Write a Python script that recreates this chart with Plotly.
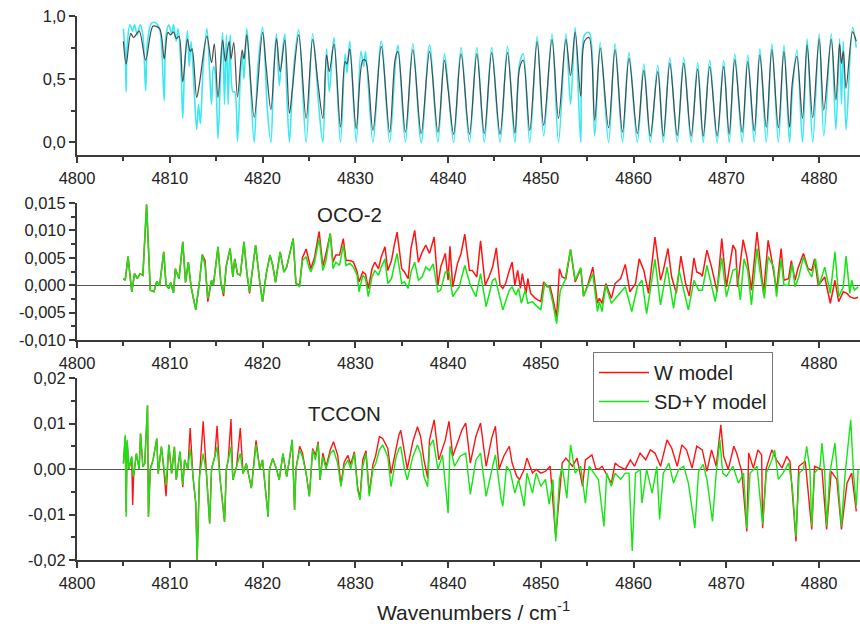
import plotly.graph_objects as go

# ---------------- data ----------------
# top panel: smoothed (dark) and high-resolution (cyan) transmittance
top_dark_x = [4805.0, 4805.3, 4805.8, 4806.1, 4806.7, 4807.4, 4808.2, 4808.9, 4809.4, 4809.8,
              4810.1, 4810.4, 4810.7, 4811.0, 4811.4, 4811.9, 4812.2, 4812.4, 4812.9, 4813.2,
              4814.0, 4814.5, 4814.8, 4815.2, 4815.7, 4816.0, 4816.4, 4816.6, 4816.9, 4817.3,
              4817.8, 4818.0, 4818.3, 4819.1, 4820.0, 4820.4, 4820.9, 4821.5, 4821.9, 4822.4,
              4822.9, 4823.2, 4823.9, 4824.7, 4825.4, 4826.0, 4826.5, 4826.9, 4827.2, 4827.7,
              4828.4, 4828.9, 4829.1, 4829.4, 4830.1, 4830.8, 4831.1, 4831.9, 4832.8, 4833.7,
              4834.3, 4834.6, 4835.4, 4836.2, 4837.1, 4838.0, 4838.9, 4839.6, 4840.0, 4840.6,
              4841.4, 4842.3, 4843.1, 4843.9, 4844.7, 4845.6, 4846.4, 4847.2, 4847.7, 4848.1,
              4848.8, 4849.6, 4850.3, 4851.2, 4851.9, 4852.7, 4853.2, 4853.7, 4854.3, 4854.7,
              4855.2, 4855.8, 4856.4, 4857.3, 4858.0, 4858.8, 4859.5, 4860.4, 4861.1, 4861.8,
              4862.6, 4863.2, 4863.9, 4864.7, 4865.4, 4866.2, 4866.9, 4867.5, 4868.2, 4869.0,
              4869.7, 4870.3, 4870.9, 4871.7, 4872.3, 4873.0, 4873.6, 4874.3, 4874.9, 4875.6,
              4876.2, 4876.8, 4877.1, 4877.6, 4878.2, 4878.7, 4879.3, 4880.0, 4880.5, 4881.3,
              4881.8, 4882.2, 4882.4, 4882.6, 4882.9, 4883.6, 4884.0]
top_dark_y = [0.80, 0.62, 0.86, 0.83, 0.88, 0.65, 0.92, 0.90, 0.66, 0.87,
              0.85, 0.875, 0.82, 0.84, 0.48, 0.815, 0.72, 0.74, 0.355, 0.465,
              0.84, 0.63, 0.78, 0.355, 0.81, 0.64, 0.80, 0.66, 0.79, 0.36,
              0.73, 0.66, 0.85, 0.20, 0.87, 0.59, 0.26, 0.82, 0.56, 0.81,
              0.23, 0.41, 0.85, 0.19, 0.815, 0.45, 0.19, 0.69, 0.56, 0.78,
              0.12, 0.64, 0.62, 0.74, 0.11, 0.65, 0.65, 0.095, 0.76, 0.08,
              0.66, 0.72, 0.08, 0.735, 0.07, 0.72, 0.08, 0.65, 0.42, 0.065,
              0.70, 0.065, 0.70, 0.07, 0.71, 0.065, 0.71, 0.075, 0.585, 0.65,
              0.095, 0.80, 0.135, 0.815, 0.19, 0.815, 0.53, 0.87, 0.365, 0.80,
              0.83, 0.175, 0.745, 0.115, 0.735, 0.08, 0.665, 0.07, 0.57, 0.05,
              0.56, 0.05, 0.625, 0.055, 0.625, 0.05, 0.58, 0.05, 0.60, 0.05,
              0.60, 0.065, 0.655, 0.08, 0.64, 0.09, 0.69, 0.12, 0.735, 0.115,
              0.72, 0.12, 0.47, 0.68, 0.19, 0.77, 0.195, 0.82, 0.255, 0.815,
              0.335, 0.78, 0.625, 0.72, 0.43, 0.875, 0.80]

top_cyan_x = [4805.0, 4805.2, 4805.3, 4805.4, 4805.7, 4806.0, 4806.2, 4806.5, 4806.8, 4807.1,
              4807.4, 4807.6, 4808.0, 4808.3, 4808.7, 4809.0, 4809.4, 4809.6, 4809.9, 4810.2,
              4810.4, 4810.7, 4810.9, 4811.2, 4811.4, 4811.6, 4811.9, 4812.1, 4812.3, 4812.6,
              4812.9, 4813.1, 4813.3, 4813.6, 4814.0, 4814.3, 4814.5, 4814.7, 4814.9, 4815.2,
              4815.5, 4815.7, 4815.9, 4816.1, 4816.3, 4816.5, 4816.8, 4817.0, 4817.3, 4817.6,
              4817.8, 4818.0, 4818.3, 4818.6, 4819.1, 4819.5, 4820.0, 4820.3, 4820.5, 4820.9,
              4821.2, 4821.5, 4821.8, 4822.0, 4822.4, 4822.6, 4822.9, 4823.2, 4823.5, 4823.9,
              4824.7, 4825.4, 4826.1, 4826.5, 4826.9, 4827.2, 4827.7, 4828.4, 4828.9, 4829.1,
              4829.4, 4830.1, 4830.6, 4830.9, 4831.1, 4831.9, 4832.8, 4833.7, 4834.3, 4834.6,
              4835.4, 4836.2, 4837.1, 4838.0, 4838.9, 4839.6, 4840.0, 4840.6, 4841.4, 4842.3,
              4843.1, 4843.9, 4844.7, 4845.6, 4846.4, 4847.2, 4847.7, 4848.1, 4848.8, 4849.6,
              4850.3, 4851.2, 4851.9, 4852.7, 4853.2, 4853.7, 4854.3, 4854.7, 4855.2, 4855.8,
              4856.4, 4857.3, 4858.0, 4858.8, 4859.5, 4860.4, 4861.1, 4861.8, 4862.6, 4863.2,
              4863.9, 4864.7, 4865.4, 4866.2, 4866.9, 4867.5, 4868.2, 4869.0, 4869.7, 4870.3,
              4870.9, 4871.7, 4872.3, 4873.0, 4873.6, 4874.3, 4874.9, 4875.6, 4876.2, 4876.8,
              4877.1, 4877.6, 4878.2, 4878.7, 4879.3, 4880.0, 4880.5, 4881.3, 4881.8, 4882.2,
              4882.4, 4882.6, 4882.9, 4883.6, 4884.0]
top_cyan_y = [0.90, 0.70, 0.40, 0.75, 0.93, 0.88, 0.93, 0.85, 0.93, 0.85,
              0.41, 0.80, 0.94, 0.95, 0.93, 0.86, 0.33, 0.85, 0.93, 0.86,
              0.93, 0.80, 0.90, 0.60, 0.19, 0.60, 0.88, 0.60, 0.80, 0.45,
              0.10, 0.30, 0.15, 0.60, 0.90, 0.55, 0.30, 0.60, 0.55, 0.03,
              0.60, 0.87, 0.30, 0.85, 0.30, 0.85, 0.40, 0.40, 0.01, 0.50,
              0.70, 0.50, 0.90, 0.60, 0.00, 0.60, 0.91, 0.60, 0.28, 0.00,
              0.55, 0.86, 0.45, 0.60, 0.86, 0.40, 0.00, 0.40, 0.70, 0.89,
              0.00, 0.86, 0.25, 0.00, 0.74, 0.40, 0.83, 0.00, 0.70, 0.55,
              0.80, 0.00, 0.72, 0.60, 0.72, 0.00, 0.80, 0.00, 0.60, 0.77,
              0.00, 0.78, 0.00, 0.77, 0.00, 0.70, 0.45, 0.00, 0.75, 0.00,
              0.75, 0.00, 0.75, 0.00, 0.76, 0.00, 0.62, 0.70, 0.00, 0.84,
              0.05, 0.86, 0.00, 0.86, 0.30, 0.91, 0.00, 0.85, 0.87, 0.05,
              0.79, 0.00, 0.78, 0.00, 0.71, 0.00, 0.62, 0.00, 0.61, 0.00,
              0.67, 0.00, 0.67, 0.00, 0.63, 0.00, 0.65, 0.00, 0.65, 0.00,
              0.70, 0.00, 0.69, 0.00, 0.74, 0.00, 0.78, 0.00, 0.77, 0.00,
              0.40, 0.73, 0.00, 0.82, 0.00, 0.86, 0.05, 0.86, 0.10, 0.82,
              0.30, 0.80, 0.10, 0.91, 0.75]

# middle panel: OCO-2 residuals
oco_w_x = [4805.0, 4805.2, 4805.5, 4805.9, 4806.2, 4806.5, 4806.8, 4807.1, 4807.5, 4807.9,
           4808.3, 4808.6, 4808.9, 4809.35, 4809.6, 4809.9, 4810.1, 4810.4, 4810.6, 4811.0,
           4811.4, 4811.7, 4812.0, 4812.3, 4812.8, 4813.2, 4813.5, 4813.8, 4814.1, 4814.5,
           4814.7, 4815.2, 4815.5, 4815.8, 4816.1, 4816.5, 4816.8, 4817.0, 4817.3, 4817.6,
           4818.0, 4818.3, 4818.6, 4819.25, 4819.7, 4820.0, 4820.4, 4820.8, 4821.1, 4821.4,
           4821.9, 4822.3, 4822.6, 4823.3, 4823.6, 4824.0, 4824.3, 4824.7, 4825.0, 4825.2,
           4825.6, 4826.1, 4826.5, 4826.8, 4827.3, 4827.6, 4827.9, 4828.3, 4828.7, 4829.0,
           4829.4, 4829.8, 4830.2, 4830.4, 4830.8, 4831.1, 4831.4, 4831.8, 4832.1, 4832.5,
           4832.8, 4833.2, 4833.5, 4833.9, 4834.2, 4834.5, 4835.0, 4835.3, 4835.7, 4836.0,
           4836.4, 4836.8, 4837.2, 4837.6,
           4838.0, 4838.5, 4838.9, 4839.2, 4839.7, 4840.0, 4840.2, 4840.5, 4841.0, 4841.4,
           4841.8, 4842.3, 4842.6, 4843.1, 4843.5, 4844.0, 4844.4, 4844.8, 4845.2, 4845.6,
           4845.9, 4846.2, 4846.6, 4846.9, 4847.2, 4847.5, 4847.8, 4848.0, 4848.4, 4848.6,
           4848.9, 4849.4, 4850.0, 4850.3, 4850.7, 4851.0, 4851.3, 4851.7, 4852.0, 4852.3,
           4852.7, 4853.2, 4853.7, 4854.3, 4854.6, 4855.1, 4855.6, 4856.1, 4856.3, 4856.6,
           4857.0, 4857.6, 4858.0, 4858.6, 4859.1, 4859.6, 4860.2, 4860.6, 4861.1, 4861.6,
           4862.3, 4862.9, 4863.2, 4863.7, 4864.1, 4864.6, 4865.1, 4865.6, 4866.0, 4866.5,
           4866.8, 4867.2, 4867.4, 4867.9, 4868.4, 4869.0, 4869.5, 4870.0, 4870.7, 4871.0,
           4871.2, 4871.8, 4872.2, 4872.7, 4873.3, 4873.7, 4874.0, 4874.5, 4874.9, 4875.4,
           4875.9, 4876.2, 4876.7, 4877.0, 4877.4, 4877.7, 4878.3, 4878.8, 4879.2, 4879.5,
           4879.9, 4880.6, 4881.2, 4881.7, 4882.1, 4882.6, 4883.0, 4883.3, 4883.8, 4884.2]
oco_w_y = [0.0012, 0.0009, 0.0052, -0.0012, 0.0021, 0.0012, 0.0021, 0.0018, 0.0147, -0.0009,
           -0.0012, 0.0007, -0.0001, 0.0061, 0.0, -0.0006, 0.0005, -0.0014, 0.0030, 0.0012,
           0.0079, 0.0005, 0.0042, -0.0003, -0.0045, 0.0006, 0.0056, 0.0045, -0.0030, 0.0009,
           0.0, 0.0070, 0.0006, -0.0020, 0.0036, 0.0067, 0.0015, 0.0048, 0.0021, 0.0018,
           0.0079, 0.0024, -0.0015, 0.0073, 0.0006, -0.0030, 0.0021, 0.0055, 0.0036, 0.0005,
           0.0061, 0.0024, 0.0033, 0.0085, 0.0003, 0.0, 0.0050, 0.0066, 0.0045, 0.0030,
           0.0050, 0.0098, 0.0035, 0.0055, 0.0094, 0.0042, 0.0055, 0.0055, 0.0085, 0.0045,
           0.0045, 0.0042, 0.0024, 0.0006, 0.0024, 0.0020, -0.0006, 0.0030, 0.0042, 0.0030,
           0.0052, 0.0070, 0.0027, 0.0045, 0.0073, 0.0097, 0.0030, 0.0024, 0.0012, 0.0067,
           0.0100, 0.0042, 0.0060, 0.0073,
           0.0058, 0.0088, 0.0, 0.0033, 0.0058, 0.0009, 0.0071, -0.0003, 0.0039, 0.0058,
           0.0093, 0.0027, 0.0027, 0.0015, 0.0081, 0.0, 0.0015, 0.0033, 0.0068, 0.0,
           -0.0006, 0.0003, 0.0027, 0.0042, 0.0, 0.0027, -0.0006, 0.0021, -0.0015, 0.0012,
           -0.0015, -0.0024, -0.0030, 0.0006, -0.0003, -0.0003, -0.0024, -0.0058, 0.0030, 0.0015,
           0.0012, 0.0065, 0.0006, 0.0030, -0.0020, 0.0003, 0.0033, -0.0033, -0.0024, -0.0033,
           0.0003, -0.0024, 0.0003, 0.0012, 0.0038, -0.0012, 0.0003, 0.0048, 0.0027, -0.0015,
           0.0088, 0.0009, 0.0027, 0.0067, 0.0015, -0.0015, 0.0053, 0.0003, -0.0020, 0.0050,
           0.0024, 0.0021, 0.0016, 0.0064, 0.0033, -0.0012, 0.0085, -0.0003, 0.0073, 0.0064,
           -0.0003, 0.0083, 0.0052, -0.0009, 0.0097, 0.0039, -0.0015, 0.0082, 0.0045, -0.0009,
           0.0067, 0.0009, 0.0012, 0.0045, 0.0009, 0.0030, 0.0058, 0.0030, 0.0027, 0.0048,
           0.0, 0.0015, -0.0033, 0.0009, -0.0030, -0.0012, -0.0015, -0.0021, -0.0024, -0.0022]

oco_sdy_x = [4805.0, 4805.2, 4805.5, 4805.9, 4806.2, 4806.5, 4806.8, 4807.1, 4807.5, 4807.9,
             4808.3, 4808.6, 4808.9, 4809.35, 4809.6, 4809.9, 4810.1, 4810.4, 4810.6, 4811.0,
             4811.4, 4811.7, 4812.0, 4812.3, 4812.8, 4813.2, 4813.5, 4813.8, 4814.1, 4814.5,
             4814.7, 4815.2, 4815.5, 4815.8, 4816.1, 4816.5, 4816.8, 4817.0, 4817.3, 4817.6,
             4818.0, 4818.3, 4818.6, 4819.25, 4819.7, 4820.0, 4820.4, 4820.8, 4821.1, 4821.4,
             4821.9, 4822.3, 4822.6, 4823.3, 4823.6, 4824.0, 4824.3, 4824.7, 4825.0, 4825.2,
             4825.6, 4826.1, 4826.5, 4826.8, 4827.3, 4827.6, 4827.9, 4828.3, 4828.7, 4829.0,
             4829.4, 4829.8, 4830.2, 4830.4, 4830.8, 4831.1, 4831.4, 4831.8, 4832.1, 4832.5,
             4832.8, 4833.2, 4833.5, 4833.9, 4834.2, 4834.5, 4835.0, 4835.3, 4835.7, 4836.0,
             4836.4, 4836.8, 4837.2, 4837.6,
             4838.0, 4838.4, 4838.9, 4839.2, 4839.7, 4840.1, 4840.5, 4841.2, 4841.8, 4842.4,
             4843.0, 4843.5, 4844.1, 4844.8, 4845.1, 4845.6, 4845.9, 4846.6, 4846.9, 4847.3,
             4847.6, 4847.9, 4848.3, 4848.6, 4849.1, 4849.4, 4850.0, 4850.4, 4850.9, 4851.3,
             4851.7, 4852.1, 4852.6, 4853.2, 4853.7, 4854.3, 4854.6, 4855.1, 4855.6, 4856.1,
             4856.3, 4856.6, 4857.0, 4857.6, 4858.4, 4859.1, 4859.8, 4860.4, 4860.9, 4861.4,
             4862.3, 4862.9, 4863.6, 4864.3, 4864.9, 4865.6, 4865.9, 4866.5, 4867.0, 4867.4,
             4867.9, 4868.8, 4869.5, 4870.0, 4870.7, 4871.1, 4871.5, 4871.9, 4872.3, 4872.7,
             4873.3, 4873.6, 4874.1, 4874.5, 4875.1, 4875.4, 4875.9, 4876.2, 4876.7, 4877.1,
             4877.4, 4877.8, 4878.3, 4878.8, 4879.2, 4879.6, 4880.0, 4880.6, 4881.2, 4881.7,
             4882.1, 4882.6, 4882.9, 4883.3, 4883.5, 4883.8, 4884.2]
oco_sdy_y = [0.0012, 0.0009, 0.0052, -0.0012, 0.0021, 0.0012, 0.0021, 0.0018, 0.0147, -0.0009,
             -0.0012, 0.0007, -0.0001, 0.0061, 0.0, -0.0006, 0.0005, -0.0014, 0.0030, 0.0012,
             0.0079, 0.0005, 0.0042, -0.0003, -0.0045, 0.0006, 0.0056, 0.0036, -0.0024, 0.0009,
             0.0, 0.0070, 0.0006, -0.0015, 0.0036, 0.0067, 0.0015, 0.0048, 0.0021, 0.0018,
             0.0079, 0.0024, -0.0012, 0.0073, 0.0006, -0.0030, 0.0021, 0.0055, 0.0036, 0.0005,
             0.0061, 0.0024, 0.0033, 0.0085, 0.0003, -0.0003, 0.0045, 0.0052, 0.0033, 0.0024,
             0.0042, 0.0085, 0.0027, 0.0042, 0.0094, 0.0030, 0.0042, 0.0036, 0.0073, 0.0036,
             0.0040, 0.0033, 0.0018, -0.0012, 0.0018, 0.0012, -0.0021, 0.0015, 0.0027, 0.0018,
             0.0033, 0.0048, 0.0003, 0.0012, 0.0036, 0.0058, 0.0003, 0.0006, -0.0006, 0.0024,
             0.0042, 0.0009, 0.0015, 0.0033,
             0.0027, 0.0039, -0.0012, -0.0009, 0.0024, 0.0024, -0.0021, -0.0003, 0.0036, 0.0,
             -0.0021, 0.0021, -0.0039, 0.0009, 0.0012, -0.0021, -0.0045, -0.0009, -0.0003, -0.0018,
             -0.0006, -0.0033, -0.0009, -0.0033, -0.0030, -0.0036, -0.0045, 0.0003, -0.0003, -0.0033,
             -0.0070, -0.0009, 0.0009, 0.0065, 0.0009, 0.0032, -0.0020, 0.0, 0.0021, -0.0048,
             -0.0030, -0.0048, 0.0, -0.0033, -0.0018, -0.0003, -0.0048, -0.0003, 0.0009, -0.0052,
             0.0047, -0.0036, 0.0033, -0.0042, 0.0027, -0.0021, -0.0045, 0.0009, -0.0009, -0.0009,
             0.0036, -0.0030, 0.0050, -0.0021, 0.0027, 0.0030, -0.0027, 0.0048, 0.0027, -0.0036,
             0.0067, 0.0027, -0.0024, 0.0052, 0.0033, -0.0021, 0.0047, 0.0, 0.0, 0.0039,
             -0.0003, 0.0015, 0.0052, 0.0027, 0.0015, 0.0048, 0.0, 0.0033, -0.0015, 0.0061,
             -0.0021, -0.0003, 0.0053, -0.0015, 0.0009, -0.0009, -0.0003]

# bottom panel: TCCON residuals
tccon_w_x = [4805.0, 4805.2, 4805.3, 4805.4, 4805.6, 4805.9, 4806.0, 4806.1, 4806.4, 4806.7,
             4806.85, 4807.1, 4807.3, 4807.6, 4807.7, 4807.9, 4808.2, 4808.6, 4808.75, 4809.1,
             4809.35, 4809.6, 4809.9, 4810.2, 4810.5, 4810.7, 4811.1, 4811.4, 4811.6, 4811.95,
             4812.2, 4812.5, 4812.8, 4812.95, 4813.1, 4813.2, 4813.6, 4813.95, 4814.3, 4814.5,
             4814.85, 4815.1, 4815.4, 4815.9, 4816.1, 4816.3, 4816.6, 4816.8, 4817.2, 4817.6,
             4817.9, 4818.25, 4818.8, 4819.3, 4819.7, 4820.0, 4820.6, 4820.75, 4821.1, 4821.5,
             4821.8, 4822.2, 4822.6, 4822.9, 4823.2, 4823.45, 4823.6, 4824.0, 4824.3, 4824.7,
             4825.05, 4825.4, 4825.7, 4826.0, 4826.2, 4826.5, 4826.85, 4827.3, 4827.65, 4828.1,
             4828.45, 4828.8, 4829.2, 4829.5, 4829.9, 4830.25, 4830.5, 4830.8, 4831.15, 4831.5,
             4831.9, 4832.2, 4832.6, 4832.95, 4833.5, 4833.85, 4834.4, 4834.7, 4834.9, 4835.3,
             4835.6, 4836.2, 4836.7, 4837.05, 4837.4, 4837.8,
             4838.0, 4838.5, 4839.0, 4839.7, 4840.1, 4840.5, 4841.0, 4841.5, 4841.9, 4842.4,
             4843.0, 4843.5, 4844.1, 4844.7, 4845.1, 4845.5, 4846.0, 4846.6, 4846.9, 4847.4,
             4847.7, 4848.2, 4848.5, 4849.1, 4849.5, 4850.0, 4850.5, 4851.0, 4851.6, 4852.3,
             4852.7, 4853.4, 4853.9, 4854.5, 4854.8, 4855.5, 4855.9, 4856.2, 4856.6, 4857.0,
             4857.6, 4858.0, 4858.4, 4859.1, 4859.65, 4860.1, 4860.7, 4861.3, 4861.8, 4862.3,
             4862.9, 4863.6, 4864.1, 4864.7, 4865.2, 4865.7, 4866.3, 4866.8, 4867.4, 4867.9,
             4868.4, 4868.9, 4869.4, 4869.7, 4870.2, 4870.8, 4871.1, 4871.65, 4872.2, 4872.4,
             4872.9, 4873.4, 4873.8, 4873.9, 4874.3, 4874.9, 4875.4, 4876.0, 4876.5, 4876.85,
             4877.5, 4877.8, 4878.5, 4879.2, 4879.5, 4880.3, 4880.8, 4881.3, 4881.9, 4882.4,
             4883.0, 4883.5, 4884.0]
tccon_w_y = [0.0012, 0.0070, -0.0095, 0.0060, 0.0, 0.0027, -0.0079, -0.0017, 0.0034, 0.0,
             0.0078, 0.0005, 0.0012, 0.0140, -0.0105, 0.0, 0.0020, 0.0067, -0.0010, 0.0049,
             0.0, -0.0060, 0.0053, -0.0010, 0.0049, -0.0024, 0.0038, -0.0040, 0.0020, 0.0,
             0.0090, -0.0017, -0.0075, -0.0200, -0.0090, -0.0017, 0.0105, -0.0010, -0.0120, 0.0,
             0.0027, 0.0095, -0.0017, -0.0116, 0.0, 0.0020, 0.0110, -0.0024, 0.0005, 0.0090,
             -0.0010, 0.0012, -0.0042, 0.0063, 0.0, 0.0020, -0.0105, 0.0, 0.0023, 0.0,
             -0.0024, 0.0034, -0.0017, 0.0020, 0.0064, -0.0090, 0.0, 0.0050, 0.0035, -0.0010,
             -0.0060, 0.0045, 0.0030, 0.0060, -0.0024, 0.0035, 0.0005, 0.0042, 0.0060, 0.0030,
             -0.0035, 0.0015, 0.0030, 0.0010, 0.0038, -0.0040, -0.0065, 0.0020, 0.0040, -0.0055,
             0.0010, 0.0030, 0.0071, 0.0067, 0.0045, -0.0010, 0.0044, 0.0075, 0.0085, 0.0035,
             0.0, 0.0060, 0.0093, 0.0070, 0.0020, -0.0020,
             0.0064, 0.0108, 0.0020, 0.0064, 0.0105, 0.0028, 0.0057, 0.0086, 0.0101, 0.0013,
             0.0072, 0.0101, 0.0006, 0.0068, 0.0094, 0.0, 0.0028, 0.0050, 0.0013, -0.0016,
             -0.0023, -0.0001, 0.0024, -0.0009, -0.0001, -0.0009, -0.0005, 0.0006, -0.0150, 0.0013,
             0.0024, 0.0006, 0.0024, -0.0038, 0.0020, 0.0031, 0.0002, -0.0001, 0.0006, -0.0009,
             -0.0031, 0.0013, 0.0006, -0.0001, 0.0020, 0.0006, 0.0035, 0.0020, 0.0042, 0.0035,
             0.0006, 0.0064, 0.0046, 0.0006, 0.0053, 0.0042, 0.0002, 0.0050, 0.0042, -0.0005,
             0.0042, 0.0006, 0.0097, 0.0028, -0.0001, 0.0050, 0.0035, -0.0005, -0.0137, 0.0035,
             0.0002, 0.0042, 0.0031, -0.0130, 0.0002, 0.0042, 0.0020, 0.0002, 0.0028, 0.0017,
             -0.0159, 0.0006, 0.0017, -0.0133, 0.0006, -0.0001, -0.0133, -0.0005, -0.0023, -0.0133,
             -0.0031, -0.0009, -0.0093]

tccon_sdy_x = [4805.0, 4805.2, 4805.3, 4805.4, 4805.6, 4805.9, 4806.1, 4806.4, 4806.7, 4806.85,
               4807.1, 4807.3, 4807.6, 4807.7, 4807.9, 4808.2, 4808.6, 4808.75, 4809.1, 4809.35,
               4809.6, 4809.9, 4810.2, 4810.5, 4810.7, 4811.1, 4811.4, 4811.6, 4811.95, 4812.2,
               4812.5, 4812.8, 4812.95, 4813.1, 4813.2, 4813.6, 4813.95, 4814.3, 4814.5, 4814.85,
               4815.1, 4815.4, 4815.9, 4816.1, 4816.3, 4816.6, 4816.8, 4817.2, 4817.6, 4817.9,
               4818.25, 4818.8, 4819.3, 4819.7, 4820.0, 4820.6, 4820.75, 4821.1, 4821.5, 4821.8,
               4822.2, 4822.6, 4822.9, 4823.2, 4823.45, 4823.6, 4824.0, 4824.3, 4824.7, 4825.05,
               4825.4, 4825.7, 4826.0, 4826.2, 4826.5, 4826.85, 4827.3, 4827.65, 4828.1, 4828.45,
               4828.8, 4829.2, 4829.5, 4829.9, 4830.25, 4830.5, 4830.8, 4831.15, 4831.5, 4831.9,
               4832.2, 4832.6, 4832.95, 4833.5, 4833.85, 4834.4, 4834.7, 4834.9, 4835.3, 4835.6,
               4836.2, 4836.7, 4837.05, 4837.4, 4837.8,
               4838.0, 4838.4, 4838.9, 4839.4, 4840.0, 4840.2, 4840.7, 4841.3, 4841.9, 4842.4,
               4843.0, 4843.5, 4844.1, 4844.8, 4845.1, 4845.7, 4845.9, 4846.3, 4846.7, 4847.2,
               4847.6, 4848.2, 4848.5, 4849.1, 4849.5, 4850.0, 4850.5, 4850.9, 4851.3, 4851.6,
               4852.0, 4852.3, 4852.8, 4853.2, 4853.7, 4854.3, 4854.8, 4855.2, 4855.7, 4856.2,
               4856.8, 4857.1, 4857.6, 4858.0, 4858.6, 4859.1, 4859.5, 4859.85, 4860.2, 4860.7,
               4860.9, 4861.4, 4862.0, 4862.5, 4862.8, 4863.2, 4863.8, 4864.3, 4864.85, 4865.4,
               4865.9, 4866.6, 4867.0, 4867.5, 4867.9, 4868.5, 4868.9, 4869.3, 4869.6, 4870.0,
               4870.7, 4871.3, 4871.85, 4872.2, 4872.55, 4873.3, 4873.9, 4874.3, 4874.9, 4875.2,
               4875.6, 4876.1, 4876.7, 4877.1, 4877.5, 4877.85, 4878.3, 4878.65, 4879.0, 4879.2,
               4879.5, 4880.1, 4880.3, 4880.6, 4880.8, 4881.15, 4881.7, 4882.05, 4882.4, 4882.8,
               4883.4, 4883.7, 4884.0, 4884.2]
tccon_sdy_y = [0.0012, 0.0075, -0.0105, 0.0064, 0.0, 0.0027, -0.0017, 0.0034, 0.0, 0.0078,
               0.0005, 0.0012, 0.0140, -0.0105, 0.0, 0.0020, 0.0067, -0.0010, 0.0049, 0.0,
               -0.0035, 0.0053, -0.0010, 0.0049, -0.0024, 0.0038, -0.0035, 0.0020, 0.0, 0.0045,
               -0.0017, -0.0075, -0.0200, -0.0090, -0.0017, 0.0034, -0.0010, -0.0120, 0.0, 0.0027,
               0.0049, -0.0017, -0.0116, 0.0, 0.0020, 0.0049, -0.0024, 0.0005, 0.0034, -0.0010,
               0.0012, -0.0042, 0.0053, 0.0, 0.0020, -0.0105, 0.0, 0.0023, 0.0, -0.0024,
               0.0034, -0.0017, 0.0020, 0.0064, -0.0090, 0.0, 0.0042, 0.0027, -0.0010, -0.0060,
               0.0042, 0.0020, 0.0056, -0.0024, 0.0027, 0.0, 0.0034, 0.0042, 0.0012, -0.0039,
               0.0005, 0.0020, 0.0, 0.0034, -0.0046, -0.0068, 0.0005, 0.0034, -0.0060, 0.0,
               0.0012, 0.0042, 0.0053, 0.0027, -0.0039, 0.0027, 0.0045, 0.0049, 0.0, -0.0024,
               0.0027, 0.0053, 0.0034, -0.0017, -0.0039,
               0.0050, 0.0064, -0.0001, 0.0031, -0.0097, 0.0050, 0.0006, 0.0028, 0.0035, -0.0056,
               0.0020, 0.0035, -0.0060, 0.0006, 0.0031, -0.0064, -0.0082, 0.0006, -0.0005, -0.0053,
               -0.0023, -0.0082, -0.0009, -0.0053, -0.0009, -0.0038, -0.0023, -0.0078, -0.0023, -0.0159,
               -0.0023, 0.0006, -0.0064, 0.0053, -0.0009, 0.0006, -0.0075, 0.0006, -0.0009, -0.0023,
               -0.0126, -0.0009, -0.0038, -0.0009, -0.0023, -0.0009, -0.0009, -0.0180, -0.0009, -0.0001,
               -0.0075, -0.0001, -0.0053, 0.0006, -0.0111, -0.0009, 0.0013, -0.0031, -0.0001, 0.0006,
               -0.0031, -0.0130, -0.0005, 0.0010, -0.0023, -0.0115, -0.0009, 0.0064, -0.0009, -0.0016,
               0.0006, -0.0031, -0.0009, -0.0130, -0.0009, 0.0006, -0.0122, -0.0009, 0.0020, 0.0042,
               -0.0023, -0.0009, 0.0013, -0.0038, -0.0148, -0.0009, -0.0001, 0.0050, -0.0001, -0.0126,
               -0.0009, 0.0006, 0.0057, -0.0009, -0.0126, -0.0009, 0.0057, -0.0031, -0.0126, -0.0009,
               0.0108, -0.0009, -0.0082, -0.0001]

# axis tick labels (comma decimals as in the picture)
x_ticks = [4800, 4810, 4820, 4830, 4840, 4850, 4860, 4870, 4880]
top_yticks = [0.0, 0.5, 1.0]
top_ylabels = ["0,0", "0,5", "1,0"]
oco_yticks = [-0.010, -0.005, 0.0, 0.005, 0.010, 0.015]
oco_ylabels = ["-0,010", "-0,005", "0,000", "0,005", "0,010", "0,015"]
tccon_yticks = [-0.02, -0.01, 0.0, 0.01, 0.02]
tccon_ylabels = ["-0,02", "-0,01", "0,00", "0,01", "0,02"]

# ---------------- figure ----------------
RED = "#ff1414"
GREEN = "#14e614"
CYAN = "#3ee8f2"
DARK = "#4a4a4a"
AX = "#3a3a3a"
FONT = "Liberation Sans, Arial, sans-serif"
TICK_SIZE = 16.5

fig = go.Figure()
fig.add_trace(go.Scatter(x=top_cyan_x, y=top_cyan_y, mode="lines", xaxis="x", yaxis="y",
                         line=dict(color=CYAN, width=1.6, shape="spline", smoothing=0.9),
                         showlegend=False))
fig.add_trace(go.Scatter(x=top_dark_x, y=top_dark_y, mode="lines", xaxis="x", yaxis="y",
                         line=dict(color=DARK, width=1.2, shape="spline", smoothing=0.9),
                         showlegend=False))
fig.add_trace(go.Scatter(x=oco_w_x, y=oco_w_y, mode="lines", xaxis="x2", yaxis="y2",
                         line=dict(color=RED, width=1.5), showlegend=False))
fig.add_trace(go.Scatter(x=oco_sdy_x, y=oco_sdy_y, mode="lines", xaxis="x2", yaxis="y2",
                         line=dict(color=GREEN, width=1.5), showlegend=False))
fig.add_trace(go.Scatter(x=tccon_w_x, y=tccon_w_y, mode="lines", xaxis="x3", yaxis="y3",
                         line=dict(color=RED, width=1.4), name="W model"))
fig.add_trace(go.Scatter(x=tccon_sdy_x, y=tccon_sdy_y, mode="lines", xaxis="x3", yaxis="y3",
                         line=dict(color=GREEN, width=1.4), name="SD+Y model"))

XDOM = [77 / 860, 1.0]
XRANGE = [4800, 4884.4]


def xaxis(anchor):
    return dict(domain=XDOM, range=XRANGE, anchor=anchor, tickvals=x_ticks,
                showline=True, linecolor=AX, linewidth=2, ticks="outside", ticklen=6,
                tickwidth=1.5, tickcolor=AX, showgrid=False, zeroline=False,
                automargin=False,
                minor=dict(tickvals=[4805, 4815, 4825, 4835, 4845, 4855, 4865, 4875],
                           ticks="outside", ticklen=4, tickcolor=AX, tickwidth=1.5),
                tickfont=dict(size=TICK_SIZE, color="#222", family=FONT), ticklabelstandoff=1)


def yaxis(dom, rng, tv, tt, minor_vals, zl, anchor):
    return dict(domain=dom, range=rng, anchor=anchor, tickvals=tv, ticktext=tt,
                showline=True, linecolor=AX, linewidth=2, ticks="outside", ticklen=6,
                tickwidth=1.5, tickcolor=AX, showgrid=False, automargin=False,
                zeroline=zl, zerolinecolor="#555", zerolinewidth=1,
                minor=dict(tickvals=minor_vals, ticks="outside", ticklen=4,
                           tickcolor=AX, tickwidth=1.5),
                tickfont=dict(size=TICK_SIZE, color="#222", family=FONT))


fig.update_layout(
    width=860, height=624, margin=dict(l=0, r=0, t=0, b=0, autoexpand=False),
    paper_bgcolor="white", plot_bgcolor="white",
    font=dict(family=FONT, color="#222"),
    xaxis=xaxis("y"),
    yaxis=yaxis([(624 - 155) / 624, (624 - 16) / 624], [-0.1, 1.0],
                top_yticks, top_ylabels, [0.25, 0.75], False, "x"),
    xaxis2=xaxis("y2"),
    yaxis2=yaxis([(624 - 340) / 624, (624 - 203) / 624], [-0.010, 0.015],
                 oco_yticks, oco_ylabels,
                 [-0.0075, -0.0025, 0.0025, 0.0075, 0.0125], True, "x2"),
    xaxis3=xaxis("y3"),
    yaxis3=yaxis([(624 - 560) / 624, (624 - 378) / 624], [-0.02, 0.02],
                 tccon_yticks, tccon_ylabels, [-0.015, -0.005, 0.005, 0.015], True, "x3"),
    legend=dict(x=593 / 860, y=(624 - 352) / 624, xanchor="left", yanchor="top",
                bgcolor="white", bordercolor="#777", borderwidth=1, itemwidth=50,
                font=dict(size=20, color="#222", family=FONT), tracegroupgap=0),
    annotations=[
        dict(text="OCO-2", x=349 / 860, y=(624 - 214) / 624, xref="paper", yref="paper",
             xanchor="center", yanchor="middle", showarrow=False,
             font=dict(size=20.5, color="#222", family=FONT)),
        dict(text="TCCON", x=344 / 860, y=(624 - 413) / 624, xref="paper", yref="paper",
             xanchor="center", yanchor="middle", showarrow=False,
             font=dict(size=20.5, color="#222", family=FONT)),
        dict(text="Wavenumbers / cm<sup>-1</sup>", x=474 / 860, y=(624 - 611) / 624,
             xref="paper", yref="paper", xanchor="center", yanchor="middle", showarrow=False,
             font=dict(size=21, color="#222", family=FONT)),
    ],
)

fig.write_html("out.html", config={"displayModeBar": False},
               post_script="document.body.style.margin='0';document.body.style.padding='0';")
